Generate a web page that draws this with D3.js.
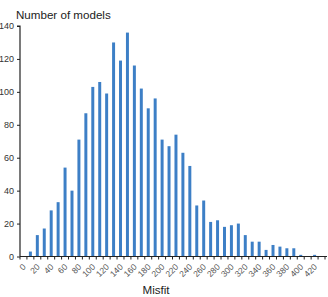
<!DOCTYPE html>
<html><head><meta charset="utf-8">
<script src="https://cdn.jsdelivr.net/npm/d3@7"></script>
<style>html,body{margin:0;padding:0;background:#fff;}svg{display:block;}</style>
</head><body>
<svg id="chart" width="328" height="297"></svg>
<script>
const categories = [0,10,20,30,40,50,60,70,80,90,100,110,120,130,140,150,160,170,180,190,200,210,220,230,240,250,260,270,280,290,300,310,320,330,340,350,360,370,380,390,400,410,420,430];
const counts = [0,3,13,17,28,33,54,40,71,87,103,106,99,130,119,136,116,102,90,96,71,67,74,63,55,31,34,21,22,18,19,20,13,9,9,4,7,6,5,5,1,0,1,0];
const xTickLabels = categories.filter(c => c % 20 === 0 && c <= 420);
const yTicks = [0,20,40,60,80,100,120,140];

const svg = d3.select("#chart");
const mLeft = 20, mRight = 325, mTop = 26, mBottom = 256.5;
const x = d3.scaleBand().domain(categories).range([mLeft, mRight]).padding(0);
const y = d3.scaleLinear().domain([0, 140]).range([mBottom, mTop]);
const bw = x.bandwidth() * 0.43;

svg.append("g").selectAll("rect").data(categories).join("rect")
  .attr("x", (c) => x(c) + x.bandwidth()/2 - bw/2)
  .attr("y", (c, i) => y(counts[i]))
  .attr("width", bw)
  .attr("height", (c, i) => y(0) - y(counts[i]))
  .attr("fill", "#3d7fc6");

// y axis
const yAxis = svg.append("g").attr("transform", `translate(${mLeft},0)`)
  .call(d3.axisLeft(y).tickValues(yTicks).tickSize(3).tickPadding(3));
yAxis.select(".domain").attr("stroke", "#222").attr("stroke-width", 1.2).attr("d", `M-3,${y(140)}H0V${y(0)}`);
yAxis.selectAll(".tick line").attr("stroke", "#222");
yAxis.selectAll("text").attr("font-family", "Liberation Sans, Arial, sans-serif").attr("font-size", 9).attr("fill", "#333");

// x axis
const gx = svg.append("g").attr("transform", `translate(0,${mBottom})`);
gx.append("line").attr("x1", mLeft).attr("x2", mRight + 2).attr("y1", 0).attr("y2", 0).attr("stroke", "#222").attr("stroke-width", 1.2);
gx.selectAll("line.tk").data(categories.concat(["end"])).join("line").attr("class", "tk")
  .attr("x1", (c) => c === "end" ? mRight : x(c)).attr("x2", (c) => c === "end" ? mRight : x(c))
  .attr("y1", 0).attr("y2", 3).attr("stroke", "#222");
gx.selectAll("text").data(xTickLabels).join("text")
  .attr("transform", (c) => `translate(${x(c) + x.bandwidth()/2 + 3},${11}) rotate(-45)`)
  .attr("text-anchor", "end")
  .attr("font-family", "Liberation Sans, Arial, sans-serif").attr("font-size", 8.5).attr("fill", "#555")
  .text((c) => c);

svg.append("text").attr("x", 16).attr("y", 19)
  .attr("font-family", "Liberation Sans, Arial, sans-serif").attr("font-size", 11.6).attr("fill", "#222")
  .text("Number of models");
svg.append("text").attr("x", 156).attr("y", 294).attr("text-anchor", "middle")
  .attr("font-family", "Liberation Sans, Arial, sans-serif").attr("font-size", 11.6).attr("fill", "#222")
  .text("Misfit");
</script>
</body></html>
